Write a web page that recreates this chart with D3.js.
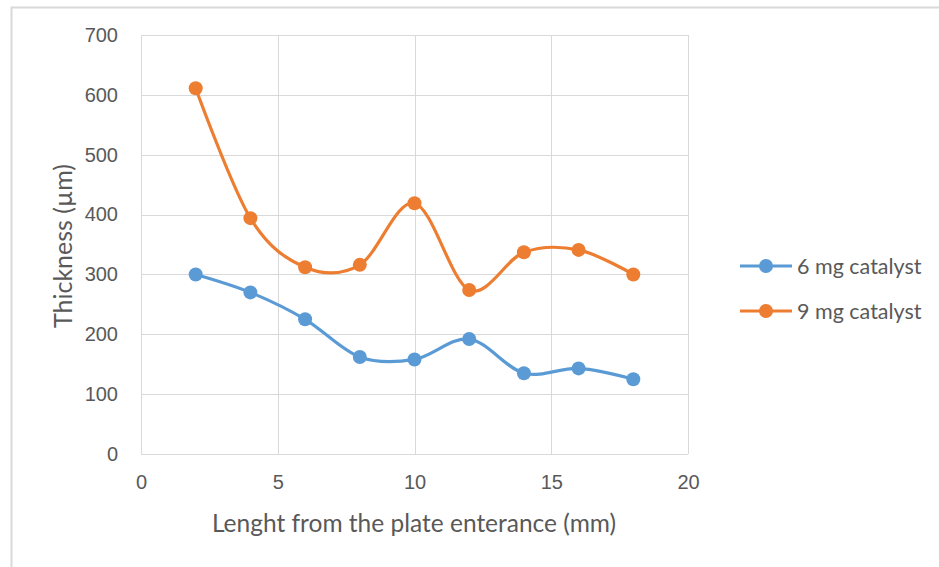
<!DOCTYPE html>
<html>
<head>
<meta charset="utf-8">
<script src="https://cdn.jsdelivr.net/npm/d3@7"></script>
<style>
  html, body { margin: 0; padding: 0; background: #fff; }
  svg { display: block; font-family: Lato, "Open Sans", "Liberation Sans", sans-serif; }
</style>
</head>
<body>
<svg id="chart" width="939" height="567"></svg>
<script>
// Coating thickness along the plate for two catalyst loadings
const lengths = [2, 4, 6, 8, 10, 12, 14, 16, 18];
const thickness6mg = [300, 270, 225, 162, 158, 192, 135, 143, 125];
const thickness9mg = [611, 394, 312, 316, 419, 274, 337, 341, 300];
const seriesNames = ["6 mg catalyst", "9 mg catalyst"];
const seriesColors = ["#5B9BD5", "#ED7D31"];
const xTicks = [0, 5, 10, 15, 20];
const yTicks = [0, 100, 200, 300, 400, 500, 600, 700];

const svg = d3.select("#chart");
const plot = { left: 141, right: 688, top: 35, bottom: 454 };

// outer chart frame
svg.append("rect")
  .attr("x", 11.5).attr("y", 7.5)
  .attr("width", 940).attr("height", 580)
  .attr("fill", "none").attr("stroke", "#D9D9D9").attr("stroke-width", 2);

const x = d3.scaleLinear().domain([0, 20]).range([plot.left, plot.right]);
const y = d3.scaleLinear().domain([0, 700]).range([plot.bottom, plot.top]);

// grid lines
const grid = svg.append("g").attr("stroke", "#D9D9D9").attr("stroke-width", 1);
grid.selectAll("line.h").data(yTicks).join("line")
  .attr("x1", plot.left).attr("x2", plot.right)
  .attr("y1", d => Math.round(y(d)) + 0.5).attr("y2", d => Math.round(y(d)) + 0.5);
grid.selectAll("line.v").data(xTicks).join("line")
  .attr("y1", plot.top).attr("y2", plot.bottom)
  .attr("x1", d => Math.round(x(d)) + 0.5).attr("x2", d => Math.round(x(d)) + 0.5);

// axes (labels only; lines come from the grid)
const yAxis = svg.append("g")
  .attr("transform", `translate(${plot.left},0)`)
  .call(d3.axisLeft(y).tickValues(yTicks).tickSize(0).tickPadding(23));
const xAxis = svg.append("g")
  .attr("transform", `translate(0,${plot.bottom})`)
  .call(d3.axisBottom(x).tickValues(xTicks).tickSize(0).tickPadding(21));
[xAxis, yAxis].forEach(a => {
  a.select(".domain").remove();
  a.selectAll("text").attr("fill", "#595959").style("font-size", "20px");
});

// axis titles
svg.append("text")
  .attr("x", 414).attr("y", 532)
  .attr("text-anchor", "middle").attr("fill", "#595959")
  .style("font-size", "24.5px")
  .text("Lenght from the plate enterance (mm)");
svg.append("text")
  .attr("transform", "translate(72,246) rotate(-90)")
  .attr("text-anchor", "middle").attr("fill", "#595959")
  .style("font-size", "25px")
  .text("Thickness (µm)");

// series
const series = [thickness6mg, thickness9mg];
const line = d3.line()
  .x((d, i) => x(lengths[i]))
  .y(d => y(d))
  .curve(d3.curveCardinal.tension(0));

series.forEach((vals, s) => {
  const g = svg.append("g");
  g.append("path")
    .datum(vals)
    .attr("d", line)
    .attr("fill", "none")
    .attr("stroke", seriesColors[s])
    .attr("stroke-width", 3.2)
    .attr("stroke-linecap", "round");
  g.selectAll("circle").data(vals).join("circle")
    .attr("cx", (d, i) => x(lengths[i]))
    .attr("cy", d => y(d))
    .attr("r", 7)
    .attr("fill", seriesColors[s]);
});

// legend
const legend = svg.append("g");
seriesNames.forEach((name, i) => {
  const ly = 266 + i * 45;
  legend.append("line")
    .attr("x1", 740).attr("x2", 792).attr("y1", ly).attr("y2", ly)
    .attr("stroke", seriesColors[i]).attr("stroke-width", 3.2);
  legend.append("circle")
    .attr("cx", 766).attr("cy", ly).attr("r", 7).attr("fill", seriesColors[i]);
  legend.append("text")
    .attr("x", 797).attr("y", ly).attr("dy", "0.35em")
    .attr("fill", "#595959").style("font-size", "21.5px")
    .text(name);
});
</script>
</body>
</html>
